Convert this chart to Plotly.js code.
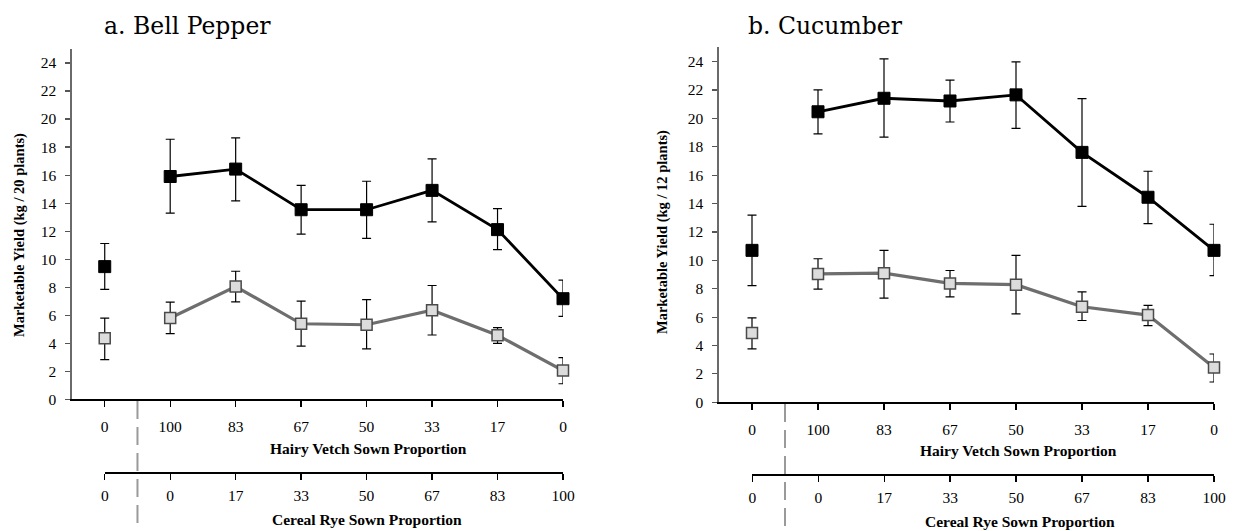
<!DOCTYPE html>
<html><head><meta charset="utf-8">
<script src="https://cdn.plot.ly/plotly-3.0.1.min.js"></script>
<style>html,body{margin:0;padding:0;background:#fff}#chart{width:1234px;height:531px}</style>
</head><body><div id="chart"></div>
<script>
// ---- data ----
const hairyVetchLabels = ['0','100','83','67','50','33','17','0'];
const cerealRyeLabels  = ['0','0','17','33','50','67','83','100'];

// a. Bell Pepper (kg / 20 plants)
const pepperBlack    = [9.47, 15.90, 16.43, 13.53, 13.53, 14.91, 12.11, 7.18];
const pepperBlackHi  = [11.12, 18.56, 18.66, 15.27, 15.56, 17.16, 13.61, 8.51];
const pepperBlackLo  = [7.85, 13.29, 14.16, 11.79, 11.48, 12.66, 10.68, 5.92];
const pepperGray     = [4.35, 5.80, 8.05, 5.39, 5.32, 6.36, 4.57, 2.05];
const pepperGrayHi   = [5.80, 6.94, 9.14, 7.01, 7.11, 8.12, 5.12, 2.97];
const pepperGrayLo   = [2.83, 4.69, 6.96, 3.79, 3.60, 4.59, 3.99, 1.11];

// b. Cucumber (kg / 12 plants)
const cucBlack   = [10.70, 20.46, 21.41, 21.22, 21.65, 17.60, 14.44, 10.70];
const cucBlackHi = [13.18, 22.00, 24.19, 22.69, 23.98, 21.38, 16.27, 12.54];
const cucBlackLo = [8.21, 18.91, 18.67, 19.74, 19.29, 13.80, 12.58, 8.92];
const cucGray    = [4.88, 9.04, 9.09, 8.37, 8.28, 6.73, 6.14, 2.45];
const cucGrayHi  = [5.95, 10.11, 10.70, 9.28, 10.35, 7.78, 6.83, 3.40];
const cucGrayLo  = [3.76, 7.97, 7.33, 7.42, 6.23, 5.76, 5.40, 1.43];

const yTicks = [0, 2, 4, 6, 8, 10, 12, 14, 16, 18, 20, 22, 24];
const panelTitles = ['a. Bell Pepper', 'b. Cucumber'];
const yTitles = ['Marketable Yield (kg / 20 plants)', 'Marketable Yield (kg / 12 plants)'];
const xTitle1 = 'Hairy Vetch Sown Proportion';
const xTitle2 = 'Cereal Rye Sown Proportion';

// ---- helpers ----
const W = 1234, H = 531;
const fx = p => p / W;
const fy = p => 1 - p / H;
const idx = hairyVetchLabels.map((_, i) => i);

function series(vals, hi, lo, xa, ya, style, part) {
  const sel = part === 'ctrl' ? [0] : idx.slice(1);
  return {
    type: 'scatter',
    mode: part === 'ctrl' ? 'markers' : 'lines+markers',
    x: sel.map(i => idx[i]),
    y: sel.map(i => vals[i]),
    xaxis: xa, yaxis: ya,
    line: style.line,
    marker: style.marker,
    error_y: {
      type: 'data', symmetric: false,
      array: sel.map(i => hi[i] - vals[i]),
      arrayminus: sel.map(i => vals[i] - lo[i]),
      color: '#000', thickness: 1.2, width: 4.5
    },
    hoverinfo: 'skip', showlegend: false, cliponaxis: false
  };
}
const blackStyle = { line: {color: '#000', width: 2.8},
  marker: {symbol: 'square', size: 12, color: '#000', line: {color: '#000', width: 1}} };
const grayStyle = { line: {color: '#6e6e6e', width: 3.2},
  marker: {symbol: 'square', size: 11, color: '#dcdcdc', line: {color: '#4a4a4a', width: 1.5}} };

const traces = [];
[['x','y', pepperBlack, pepperBlackHi, pepperBlackLo, pepperGray, pepperGrayHi, pepperGrayLo],
 ['x2','y2', cucBlack, cucBlackHi, cucBlackLo, cucGray, cucGrayHi, cucGrayLo]].forEach(p => {
  const [xa, ya, b, bh, bl, g, gh, gl] = p;
  traces.push(series(g, gh, gl, xa, ya, grayStyle, 'mix'));
  traces.push(series(g, gh, gl, xa, ya, grayStyle, 'ctrl'));
  traces.push(series(b, bh, bl, xa, ya, blackStyle, 'mix'));
  traces.push(series(b, bh, bl, xa, ya, blackStyle, 'ctrl'));
});
// empty traces so that the secondary (cereal rye) axes get drawn
['3','4'].forEach(n => traces.push({type: 'scatter', mode: 'markers', x: idx, y: idx.map(() => null),
  xaxis: 'x' + n, yaxis: 'y' + n, hoverinfo: 'skip', showlegend: false}));

const serif = '"Liberation Serif", "Times New Roman", serif';
const tickFont = {family: serif, size: 15.5, color: '#000'};
const boldFont = {family: serif, size: 15.5, color: '#000', weight: 'bold'};
const yTitleFont = {family: serif, size: 14.5, color: '#000', weight: 'bold'};
const titleFont = {family: '"DejaVu Serif", "Liberation Serif", serif', size: 23.5, color: '#000'};

function yAxis(domain, anchor) {
  return { domain: domain, anchor: anchor, range: [0, 25], tickvals: yTicks,
    showgrid: false, zeroline: false, showline: true, linecolor: '#6a6a6a', linewidth: 1.6,
    ticks: 'outside', ticklen: 5, tickcolor: '#555', tickwidth: 1.2,
    tickfont: tickFont, ticklabelstandoff: 6, fixedrange: true };
}
function xAxisMain(domain, anchor, standoff) {
  return { domain: domain, anchor: anchor, range: [-0.5, 7], tickvals: idx, ticktext: hairyVetchLabels,
    showgrid: false, zeroline: false, showline: true, linecolor: '#000', linewidth: 1.6,
    ticks: 'outside', ticklen: 6, tickcolor: '#000', tickwidth: 1.4,
    tickfont: tickFont, ticklabelstandoff: standoff, fixedrange: true };
}
function xAxisRye(domain, anchor) {
  return { domain: domain, anchor: anchor, range: [0, 7], tickvals: idx, ticktext: cerealRyeLabels,
    showgrid: false, zeroline: false, showline: true, linecolor: '#000', linewidth: 1.6,
    ticks: 'outside', ticklen: 6, tickcolor: '#000', tickwidth: 1.4,
    tickfont: tickFont, ticklabelstandoff: 3, fixedrange: true };
}
function yHidden(domain, anchor) {
  return { domain: domain, anchor: anchor, range: [0, 1], visible: false, fixedrange: true };
}

const layout = {
  width: W, height: H, margin: {l: 0, r: 0, t: 0, b: 0},
  paper_bgcolor: '#fff', plot_bgcolor: 'rgba(0,0,0,0)',
  showlegend: false,
  xaxis:  xAxisMain([fx(72), fx(563)], 'y', 6),
  yaxis:  yAxis([fy(399.3), fy(49)], 'x'),
  xaxis2: xAxisMain([fx(719), fx(1214)], 'y2', 6),
  yaxis2: yAxis([fy(402.3), fy(47.3)], 'x2'),
  xaxis3: xAxisRye([fx(104.75), fx(563)], 'y3'),
  yaxis3: yHidden([fy(472), fy(466)], 'x3'),
  xaxis4: xAxisRye([fx(752.3), fx(1214)], 'y4'),
  yaxis4: yHidden([fy(474), fy(468)], 'x4'),
  shapes: [
    {type: 'line', xref: 'x', yref: 'paper', x0: 0.5, x1: 0.5, y0: fy(401), y1: fy(524),
     line: {color: '#9a9a9a', width: 2, dash: '18px,8px'}},
    {type: 'line', xref: 'x2', yref: 'paper', x0: 0.5, x1: 0.5, y0: fy(404), y1: fy(526),
     line: {color: '#9a9a9a', width: 2, dash: '18px,8px'}}
  ],
  annotations: [
    {text: panelTitles[0], xref: 'paper', yref: 'paper', x: fx(102), y: fy(26), xanchor: 'left', yanchor: 'middle',
     showarrow: false, font: titleFont},
    {text: panelTitles[1], xref: 'paper', yref: 'paper', x: fx(746), y: fy(26), xanchor: 'left', yanchor: 'middle',
     showarrow: false, font: titleFont},
    {text: yTitles[0], xref: 'paper', yref: 'paper', x: fx(20), y: fy(235), textangle: -90,
     xanchor: 'center', yanchor: 'middle', showarrow: false, font: yTitleFont},
    {text: yTitles[1], xref: 'paper', yref: 'paper', x: fx(662), y: fy(232), textangle: -90,
     xanchor: 'center', yanchor: 'middle', showarrow: false, font: yTitleFont},
    {text: xTitle1, xref: 'paper', yref: 'paper', x: fx(368), y: fy(448), xanchor: 'center', yanchor: 'middle',
     showarrow: false, font: boldFont},
    {text: xTitle1, xref: 'paper', yref: 'paper', x: fx(1018), y: fy(450), xanchor: 'center', yanchor: 'middle',
     showarrow: false, font: boldFont},
    {text: xTitle2, xref: 'paper', yref: 'paper', x: fx(367), y: fy(519), xanchor: 'center', yanchor: 'middle',
     showarrow: false, font: boldFont},
    {text: xTitle2, xref: 'paper', yref: 'paper', x: fx(1020), y: fy(521), xanchor: 'center', yanchor: 'middle',
     showarrow: false, font: boldFont}
  ]
};

Plotly.newPlot('chart', traces, layout, {displayModeBar: false, staticPlot: true});
</script>
</body></html>
